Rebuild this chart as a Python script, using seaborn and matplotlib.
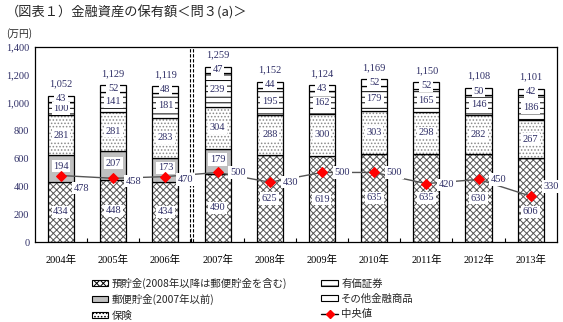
import numpy as np
import matplotlib
matplotlib.use('Agg')
import matplotlib.pyplot as plt
import seaborn as sns
from matplotlib.patches import Patch
from matplotlib.lines import Line2D
from matplotlib.ticker import FuncFormatter, MultipleLocator, FixedLocator

years = ['2004年', '2005年', '2006年', '2007年', '2008年',
         '2009年', '2010年', '2011年', '2012年', '2013年']
deposits = [434, 448, 434, 490, 625, 619, 635, 635, 630, 606]
postal = [194, 207, 173, 179, 0, 0, 0, 0, 0, 0]
insurance = [281, 281, 283, 304, 288, 300, 303, 298, 282, 267]
securities = [100, 141, 181, 239, 195, 162, 179, 165, 146, 186]
other = [43, 52, 48, 47, 44, 43, 52, 52, 50, 42]
totals = [1052, 1129, 1119, 1259, 1152, 1124, 1169, 1150, 1108, 1101]
median = [478, 458, 470, 500, 430, 500, 500, 420, 450, 330]

series_names = ['預貯金(2008年以降は郵便貯金を含む)', '郵便貯金(2007年以前)', '保険',
                '有価証券', 'その他金融商品']
median_name = '中央値'

sns.set_theme(style='white')
plt.rcParams['font.family'] = ['Liberation Serif', 'Noto Sans CJK JP']
plt.rcParams['hatch.linewidth'] = 0.7

fig = plt.figure(figsize=(5.63, 3.22), dpi=100)
ax = fig.add_axes([0.062, 0.248, 0.927, 0.606])

num_color = '#2e2e66'
styles = [
    dict(fc='white', hatch='xxxxx', hc='#555555'),
    dict(fc='#c0c0c0', hatch='', hc='#c0c0c0'),
    dict(fc='white', hatch='.....', hc='#8a8a8a'),
    dict(fc='white', hatch='---', hc='black'),
    dict(fc='white', hatch='', hc='white'),
]
layers = [deposits, postal, insurance, securities, other]
# label position within segment (fraction of segment height), per layer/bar
label_frac = [
    [0.5] * 9 + [0.36],
    [0.57] * 10,
    [0.5] * 10,
    [0.5] * 10,
    [0.5] * 10,
]

bottom = np.zeros(len(years))
for vals, st, fr in zip(layers, styles, label_frac):
    v = np.array(vals, dtype=float)
    sns.barplot(x=years, y=v, bottom=bottom, color=st['fc'], saturation=1,
                hatch=st['hatch'], edgecolor=st['hc'], linewidth=0,
                width=0.5, ax=ax)
    sns.barplot(x=years, y=v, bottom=bottom, color='black', fill=False,
                linewidth=0.9, width=0.5, ax=ax)
    for i, val in enumerate(vals):
        if val > 0:
            ax.text(i, bottom[i] + val * fr[i], str(val), ha='center', va='center',
                    fontsize=7.5, color=num_color, zorder=6,
                    bbox=dict(facecolor='white', edgecolor='none', pad=1.2))
    bottom = bottom + v

for i, t in enumerate(totals):
    ax.annotate(f'{t:,}', (i, t), xytext=(0, 5), textcoords='offset points',
                ha='center', va='bottom', fontsize=7.5, color=num_color)

xpos = np.arange(len(years))
sns.lineplot(x=xpos, y=median, color='#555555', linewidth=1.0, ax=ax,
             marker='D', markersize=5, markerfacecolor='red',
             markeredgecolor='red', zorder=9)
label_offsets = [(9, -9), (9, -2), (9, -2), (9, 0), (9, 0),
                 (9, 0), (9, 0), (9, -1), (9, 0), (9, 7)]
for i, (m, off) in enumerate(zip(median, label_offsets)):
    ax.annotate(str(m), (i, m), xytext=off, textcoords='offset points',
                ha='left', va='center', fontsize=7.5, color=num_color, zorder=10,
                bbox=dict(facecolor='white', edgecolor='none', pad=1.2))

# separator between 2006 and 2007
for dx in (-0.03, 0.03):
    ax.axvline(2.5 + dx, color='black', linewidth=0.8, linestyle=(0, (3, 1.5)), zorder=5)

ax.set_xlim(-0.5, len(years) - 0.5)
ax.set_ylim(0, 1400)
ax.yaxis.set_major_locator(MultipleLocator(200))
ax.yaxis.set_major_formatter(FuncFormatter(lambda v, p: f'{int(v):,}'))
ax.set_xticks(xpos)
ax.set_xticklabels(years)
ax.xaxis.set_minor_locator(FixedLocator(np.arange(0.5, len(years) - 0.5, 1)))
ax.tick_params(axis='x', which='major', length=0, pad=9, labelsize=7.5, labelcolor='black')
ax.tick_params(axis='x', which='minor', length=3, direction='in', width=0.8, color='black', bottom=True)
ax.tick_params(axis='y', length=0, pad=4, labelsize=7.5, labelcolor=num_color)
ax.set_xlabel('')
ax.set_ylabel('')
for s in ax.spines.values():
    s.set_color('black')
    s.set_linewidth(0.9)

fig.text(0.01, 0.96, '（図表１）金融資産の保有額＜問３(a)＞', fontsize=9.5,
         family=['Noto Sans CJK JP'], ha='left', va='center')
fig.text(0.01, 0.897, '(万円)', fontsize=7, family=['Noto Sans CJK JP'],
         ha='left', va='center')

handles = [
    Patch(facecolor='white', edgecolor='black', hatch='xxxxx', linewidth=0.8),
    Patch(facecolor='#c0c0c0', edgecolor='black', linewidth=0.8),
    Patch(facecolor='white', edgecolor='black', hatch='.....', linewidth=0.8),
    Patch(facecolor='white', edgecolor='black', hatch='---', linewidth=0.8),
    Patch(facecolor='white', edgecolor='black', linewidth=0.8),
    Line2D([], [], color='black', linewidth=1, marker='D', markersize=4.5,
           markerfacecolor='red', markeredgecolor='red'),
]
labels = series_names + [median_name]
leg = fig.legend(handles, labels, loc='upper left', bbox_to_anchor=(0.163, 0.138),
                 ncol=2, frameon=False, handlelength=1.6,
                 handleheight=0.5, handletextpad=0.3, labelspacing=0.5,
                 columnspacing=3.3, borderaxespad=0, borderpad=0,
                 prop={'family': ['Noto Sans CJK JP'], 'size': 7.5})

fig.savefig('out.png', dpi=100)
